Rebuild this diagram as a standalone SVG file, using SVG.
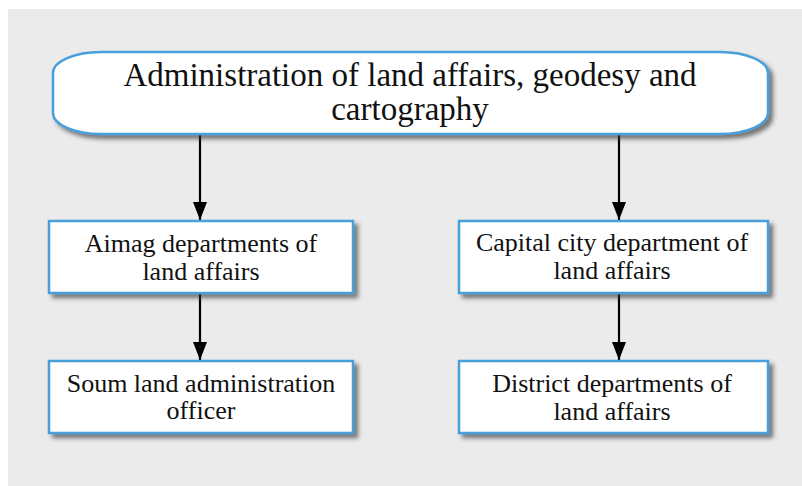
<svg xmlns="http://www.w3.org/2000/svg" width="802" height="486" viewBox="0 0 802 486">
  <defs>
    <filter id="shadow" x="-10%" y="-20%" width="130%" height="160%">
      <feDropShadow dx="4" dy="4" stdDeviation="2.2" flood-color="#3a3a3a" flood-opacity="0.65"/>
    </filter>
    <marker id="arrow" viewBox="0 0 18 14" refX="18" refY="7" markerWidth="18" markerHeight="14" markerUnits="userSpaceOnUse" orient="auto">
      <path d="M0,0 L18,7 L0,14 Z" fill="#000"/>
    </marker>
  </defs>
  <style>
    .node { fill: #ffffff; stroke: #4a9fd9; stroke-width: 2.5; filter: url(#shadow); }
    .label { font-family: "Liberation Serif", "Times New Roman", serif; fill: #111; text-anchor: middle; }
    .big { font-size: 33px; }
    .small { font-size: 26px; }
    .conn { stroke: #000; stroke-width: 2.2; fill: none; marker-end: url(#arrow); }
  </style>
  <rect x="0" y="0" width="802" height="486" fill="#ffffff"/>
  <rect x="8" y="9" width="794" height="477" fill="#ebebeb"/>

  <g id="connectors">
    <line class="conn" x1="200" y1="135" x2="200" y2="220"/>
    <line class="conn" x1="619" y1="135" x2="619" y2="220"/>
    <line class="conn" x1="200" y1="294" x2="200" y2="360"/>
    <line class="conn" x1="619" y1="294" x2="619" y2="360"/>
  </g>

  <g id="node-admin">
    <rect class="node" x="53" y="52" width="715" height="82" rx="48" ry="21"/>
    <text class="label big" x="410" y="86">Administration of land affairs, geodesy and</text>
    <text class="label big" x="410" y="120">cartography</text>
  </g>

  <g id="node-aimag">
    <rect class="node" x="49" y="221" width="304" height="72"/>
    <text class="label small" x="201" y="252">Aimag departments of</text>
    <text class="label small" x="201" y="280">land affairs</text>
  </g>

  <g id="node-capital">
    <rect class="node" x="459" y="221" width="309" height="72"/>
    <text class="label small" x="612" y="251">Capital city department of</text>
    <text class="label small" x="612" y="279">land affairs</text>
  </g>

  <g id="node-soum">
    <rect class="node" x="49" y="361" width="304" height="72"/>
    <text class="label small" x="201" y="392">Soum land administration</text>
    <text class="label small" x="201" y="419">officer</text>
  </g>

  <g id="node-district">
    <rect class="node" x="459" y="361" width="309" height="72"/>
    <text class="label small" x="612" y="392">District departments of</text>
    <text class="label small" x="612" y="420">land affairs</text>
  </g>
</svg>
